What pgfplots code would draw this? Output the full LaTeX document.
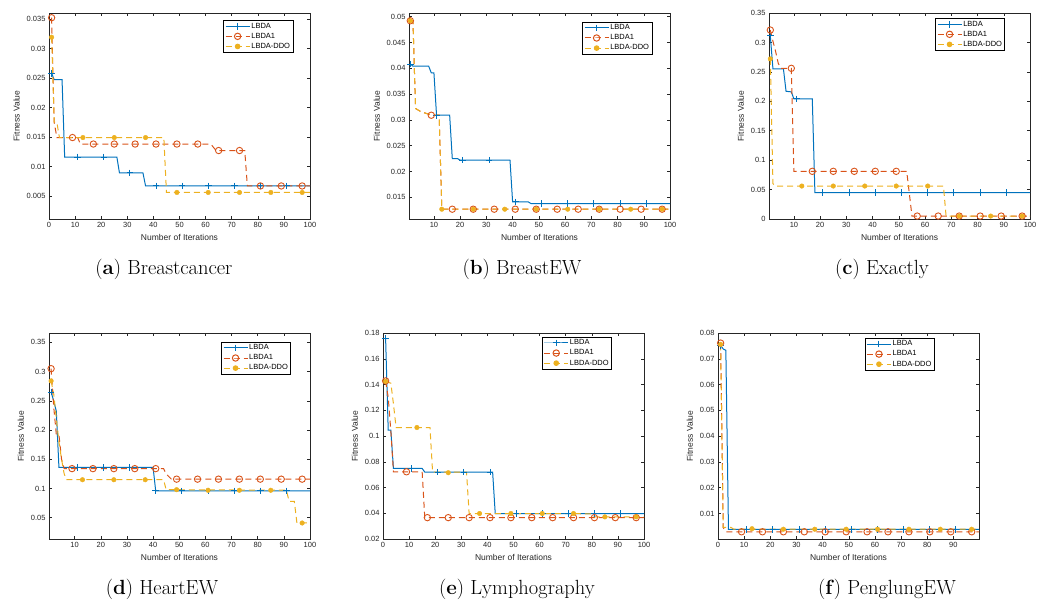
\documentclass[border=0pt]{standalone}
\usepackage{fontspec}
\usepackage{pgfplots}
\pgfplotsset{compat=1.18}
\newfontfamily\hv{Liberation Sans}
\definecolor{c1}{RGB}{0,114,189}
\definecolor{c2}{RGB}{217,83,25}
\definecolor{c3}{RGB}{237,177,32}
\definecolor{ax}{RGB}{38,38,38}

\pgfplotsset{
  fitax/.style={
    scale only axis, width=261pt, height=206pt, anchor=north west,
    axis line style={ax, line width=0.5pt},
    tick style={ax, line width=0.5pt},
    major tick length=3pt, tick align=inside, tick pos=both,
    /pgf/number format/assume math mode=true,
    ticklabel style={font=\hv\fontsize{7.5}{9}\selectfont, text=ax},
    label style={font=\hv\fontsize{8.5}{10}\selectfont, text=ax},
    xlabel={Number of Iterations}, ylabel={Fitness Value},
    scaled y ticks=false,
    yticklabel style={/pgf/number format/fixed, /pgf/number format/precision=3},
    legend cell align=left,
    legend style={anchor=north east, draw=black, line width=0.5pt,
      font=\hv\fontsize{7.5}{8}\selectfont, inner sep=1.5pt, row sep=1pt,
      nodes={inner sep=1.2pt}},
    legend image code/.code={\draw[mark repeat=2,mark phase=2,#1]
      plot coordinates {(0pt,0pt)(12pt,0pt)(24pt,0pt)};},
  },
  l1/.style={c1, line width=1pt},
  l2/.style={c2, line width=1pt, dash pattern=on 6pt off 4pt},
  l3/.style={c3, line width=1pt, dash pattern=on 6pt off 4pt},
  k1/.style={c1, line width=1pt, only marks, mark=+, mark size=3.3pt},
  k2/.style={c2, line width=0.9pt, only marks, mark=o, mark size=3.2pt},
  k3/.style={c3, only marks, mark=*, mark size=2.3pt, mark options={fill=c3, draw=c3}},
}

\begin{document}
\begin{tikzpicture}
\useasboundingbox (0,0) rectangle (1046pt,-603pt);

% (a) Breastcancer
\begin{axis}[fitax, at={(49pt,-13pt)},
  xmin=0, xmax=100, ymin=0.0011, ymax=0.036,
  xtick={0,10,...,100},
  ytick={0.005,0.01,0.015,0.02,0.025,0.03,0.035},
  legend style={at={(0.935,0.966)}}]
\addlegendimage{c1, line width=1pt, mark=+, mark size=3.3pt}
\addlegendimage{l2, mark=o, mark size=3.2pt, mark options={solid}}
\addlegendimage{l3, mark=*, mark size=2.3pt, mark options={solid, fill=c3}}
\addplot[l1, forget plot] coordinates {(1,0.0258)(2,0.0247)(5,0.0247)(6,0.0116)(26,0.0116)(27,0.0089)(36,0.0089)(37,0.0067)(100,0.0067)};
\addplot[k1, forget plot] coordinates {(1,0.0258)(11,0.0116)(21,0.0116)(31,0.0089)(41,0.0067)(51,0.0067)(61,0.0067)(71,0.0067)(81,0.0067)(91,0.0067)};
\addplot[l2, forget plot] coordinates {(1,0.0352)(2,0.0175)(3,0.0149)(11,0.0149)(12,0.0138)(62,0.0138)(64,0.0127)(75,0.0127)(76,0.0067)(100,0.0067)};
\addplot[k2, forget plot] coordinates {(1,0.0352)(9,0.0149)(17,0.0138)(25,0.0138)(33,0.0138)(41,0.0138)(49,0.0138)(57,0.0138)(65,0.0127)(73,0.0127)(81,0.0067)(89,0.0067)(97,0.0067)};
\addplot[l3, forget plot] coordinates {(1,0.0319)(2,0.0175)(3,0.0175)(4,0.0149)(44,0.0149)(45,0.0056)(100,0.0056)};
\addplot[k3, forget plot] coordinates {(1,0.0319)(13,0.0149)(25,0.0149)(37,0.0149)(49,0.0056)(61,0.0056)(73,0.0056)(85,0.0056)(97,0.0056)};
\legend{LBDA,LBDA1,LBDA-DDO}
\end{axis}

% (b) BreastEW
\begin{axis}[fitax, at={(409pt,-13pt)},
  xmin=0.5, xmax=100, ymin=0.0108, ymax=0.0507,
  xtick={10,20,...,100},
  ytick={0.015,0.02,0.025,0.03,0.035,0.04,0.045,0.05},
  legend style={at={(0.931,0.958)}}]
\addlegendimage{c1, line width=1pt, mark=+, mark size=3.3pt}
\addlegendimage{l2, mark=o, mark size=3.2pt, mark options={solid}}
\addlegendimage{l3, mark=*, mark size=2.3pt, mark options={solid, fill=c3}}
\addplot[l1, forget plot] coordinates {(1,0.0408)(2,0.0404)(8,0.0404)(9,0.0391)(10,0.0391)(11,0.0309)(16,0.0309)(17,0.0225)(19,0.0225)(20,0.0222)(39,0.0222)(40,0.0141)(46,0.0141)(47,0.0138)(100,0.0138)};
\addplot[k1, forget plot] coordinates {(1,0.0408)(11,0.0309)(21,0.0222)(31,0.0222)(41,0.0141)(51,0.0138)(61,0.0138)(71,0.0138)(81,0.0138)(91,0.0138)};
\addplot[l2, forget plot] coordinates {(1,0.0492)(2,0.0492)(3,0.0322)(5,0.0316)(8,0.0311)(9,0.0309)(12,0.0309)(13,0.0127)(100,0.0127)};
\addplot[k2, forget plot] coordinates {(1,0.0492)(9,0.0309)(17,0.0127)(25,0.0127)(33,0.0127)(41,0.0127)(49,0.0127)(57,0.0127)(65,0.0127)(73,0.0127)(81,0.0127)(89,0.0127)(97,0.0127)};
\addplot[l3, forget plot] coordinates {(1,0.0492)(2,0.0492)(3,0.0322)(5,0.0316)(8,0.0311)(9,0.0309)(12,0.0309)(13,0.0127)(100,0.0127)};
\addplot[k3, forget plot] coordinates {(1,0.0492)(13,0.0127)(25,0.0127)(37,0.0127)(49,0.0127)(61,0.0127)(73,0.0127)(85,0.0127)(97,0.0127)};
\legend{LBDA,LBDA1,LBDA-DDO}
\end{axis}

% (c) Exactly
\begin{axis}[fitax, at={(769pt,-13pt)},
  xmin=0.5, xmax=100, ymin=0, ymax=0.35,
  xtick={10,20,...,100},
  ytick={0,0.05,0.1,0.15,0.2,0.25,0.3,0.35},
  legend style={at={(0.904,0.976)}}]
\addlegendimage{c1, line width=1pt, mark=+, mark size=3.3pt}
\addlegendimage{l2, mark=o, mark size=3.2pt, mark options={solid}}
\addlegendimage{l3, mark=*, mark size=2.3pt, mark options={solid, fill=c3}}
\addplot[l1, forget plot] coordinates {(1,0.311)(2,0.255)(6,0.255)(7,0.217)(9,0.216)(10,0.204)(17,0.204)(18,0.045)(100,0.045)};
\addplot[k1, forget plot] coordinates {(1,0.311)(11,0.204)(21,0.045)(31,0.045)(41,0.045)(51,0.045)(61,0.045)(71,0.045)(81,0.045)(91,0.045)};
\addplot[l2, forget plot] coordinates {(1,0.321)(2,0.302)(3,0.285)(4,0.265)(5,0.256)(9,0.256)(10,0.081)(53,0.081)(55,0.005)(100,0.005)};
\addplot[k2, forget plot] coordinates {(1,0.321)(9,0.256)(17,0.081)(25,0.081)(33,0.081)(41,0.081)(49,0.081)(57,0.005)(65,0.005)(73,0.005)(81,0.005)(89,0.005)(97,0.005)};
\addplot[l3, forget plot] coordinates {(1,0.272)(2,0.06)(3,0.056)(67,0.056)(68,0.005)(100,0.005)};
\addplot[k3, forget plot] coordinates {(1,0.272)(13,0.056)(25,0.056)(37,0.056)(49,0.056)(61,0.056)(73,0.005)(85,0.005)(97,0.005)};
\legend{LBDA,LBDA1,LBDA-DDO}
\end{axis}

% (d) HeartEW
\begin{axis}[fitax, at={(49pt,-333pt)},
  xmin=0.2, xmax=100, ymin=0.0136, ymax=0.366,
  xtick={10,20,...,100},
  ytick={0.05,0.1,0.15,0.2,0.25,0.3,0.35},
  legend style={at={(0.927,0.958)}}]
\addlegendimage{c1, line width=1pt, mark=+, mark size=3.3pt}
\addlegendimage{l2, mark=o, mark size=3.2pt, mark options={solid}}
\addlegendimage{l3, mark=*, mark size=2.3pt, mark options={solid, fill=c3}}
\addplot[l1, forget plot] coordinates {(1,0.265)(2,0.25)(3,0.232)(4,0.136)(40,0.136)(41,0.096)(100,0.096)};
\addplot[k1, forget plot] coordinates {(1,0.265)(11,0.136)(21,0.136)(31,0.136)(41,0.096)(51,0.096)(61,0.096)(71,0.096)(81,0.096)(91,0.096)};
\addplot[l2, forget plot] coordinates {(1,0.305)(2,0.24)(3,0.192)(4,0.192)(5,0.15)(6,0.134)(44,0.134)(45,0.125)(47,0.116)(100,0.116)};
\addplot[k2, forget plot] coordinates {(1,0.305)(9,0.134)(17,0.134)(25,0.134)(33,0.134)(41,0.134)(49,0.116)(57,0.116)(65,0.116)(73,0.116)(81,0.116)(89,0.116)(97,0.116)};
\addplot[l3, forget plot] coordinates {(1,0.284)(2,0.262)(3,0.22)(4,0.18)(5,0.15)(6,0.125)(7,0.115)(44,0.115)(45,0.098)(91,0.097)(92,0.078)(94,0.078)(95,0.041)(100,0.041)};
\addplot[k3, forget plot] coordinates {(1,0.284)(13,0.115)(25,0.115)(37,0.115)(49,0.098)(61,0.097)(73,0.097)(85,0.097)(97,0.041)};
\legend{LBDA,LBDA1,LBDA-DDO}
\end{axis}

% (e) Lymphography
\begin{axis}[fitax, at={(383pt,-333pt)},
  xmin=0, xmax=100, ymin=0.02, ymax=0.18,
  xtick={0,10,...,100},
  ytick={0.02,0.04,0.06,0.08,0.1,0.12,0.14,0.16,0.18},
  legend style={at={(0.876,0.982)}}]
\addlegendimage{c1, line width=1pt, mark=+, mark size=3.3pt}
\addlegendimage{l2, mark=o, mark size=3.2pt, mark options={solid}}
\addlegendimage{l3, mark=*, mark size=2.3pt, mark options={solid, fill=c3}}
\addplot[l1, forget plot] coordinates {(1,0.1756)(2,0.1045)(3,0.1045)(4,0.0748)(15,0.0748)(16,0.072)(42,0.072)(43,0.0398)(100,0.0398)};
\addplot[k1, forget plot] coordinates {(1,0.1756)(11,0.0748)(21,0.072)(31,0.072)(41,0.072)(51,0.0398)(61,0.0398)(71,0.0398)(81,0.0398)(91,0.0398)};
\addplot[l2, forget plot] coordinates {(1,0.1428)(2,0.13)(3,0.104)(4,0.0722)(15,0.0722)(16,0.0366)(100,0.0366)};
\addplot[k2, forget plot] coordinates {(1,0.1428)(9,0.0722)(17,0.0366)(25,0.0366)(33,0.0366)(41,0.0366)(49,0.0366)(57,0.0366)(65,0.0366)(73,0.0366)(81,0.0366)(89,0.0366)(97,0.0366)};
\addplot[l3, forget plot] coordinates {(1,0.1425)(3,0.141)(4,0.125)(5,0.1066)(18,0.1066)(19,0.072)(32,0.072)(33,0.0398)(80,0.0396)(81,0.0372)(100,0.0372)};
\addplot[k3, forget plot] coordinates {(1,0.1425)(13,0.1066)(25,0.0715)(37,0.0398)(49,0.0398)(61,0.0398)(73,0.0398)(85,0.0372)(97,0.0372)};
\legend{LBDA,LBDA1,LBDA-DDO}
\end{axis}

% (f) PenglungEW
\begin{axis}[fitax, at={(718pt,-333pt)},
  xmin=0, xmax=99.8, ymin=0.0001, ymax=0.08,
  xtick={0,10,...,90},
  ytick={0.01,0.02,0.03,0.04,0.05,0.06,0.07,0.08},
  legend style={at={(0.829,0.977)}}]
\addlegendimage{c1, line width=1pt, mark=+, mark size=3.3pt}
\addlegendimage{l2, mark=o, mark size=3.2pt, mark options={solid}}
\addlegendimage{l3, mark=*, mark size=2.3pt, mark options={solid, fill=c3}}
\addplot[l1, forget plot] coordinates {(1,0.0752)(2,0.0738)(3,0.0733)(4,0.0038)(100,0.0038)};
\addplot[k1, forget plot] coordinates {(1,0.0752)(11,0.0038)(21,0.0038)(31,0.0038)(41,0.0038)(51,0.0038)(61,0.0038)(71,0.0038)(81,0.0038)(91,0.0038)};
\addplot[l2, forget plot] coordinates {(1,0.0761)(2,0.0045)(3,0.0029)(100,0.0029)};
\addplot[k2, forget plot] coordinates {(1,0.0761)(9,0.0029)(17,0.0029)(25,0.0029)(33,0.0029)(41,0.0029)(49,0.0029)(57,0.0029)(65,0.0029)(73,0.0029)(81,0.0029)(89,0.0029)(97,0.0029)};
\addplot[l3, forget plot] coordinates {(1,0.0756)(2,0.0046)(5,0.0046)(6,0.0039)(100,0.0039)};
\addplot[k3, forget plot] coordinates {(1,0.0756)(13,0.0041)(25,0.0039)(37,0.0039)(49,0.0039)(61,0.0039)(73,0.0039)(85,0.0039)(97,0.0039)};
\legend{LBDA,LBDA1,LBDA-DDO}
\end{axis}

% sub-captions
\begin{scope}[every node/.style={font=\fontsize{20.5}{24}\selectfont, inner sep=0pt}]
\node at (164pt,-269pt) {(\textbf{a}) Breastcancer};
\node at (522pt,-269pt) {(\textbf{b}) BreastEW};
\node at (882pt,-269pt) {(\textbf{c}) Exactly};
\node at (162pt,-589pt) {(\textbf{d}) HeartEW};
\node at (517pt,-589pt) {(\textbf{e}) Lymphography};
\node at (887pt,-589pt) {(\textbf{f}) PenglungEW};
\end{scope}
\end{tikzpicture}
\end{document}
